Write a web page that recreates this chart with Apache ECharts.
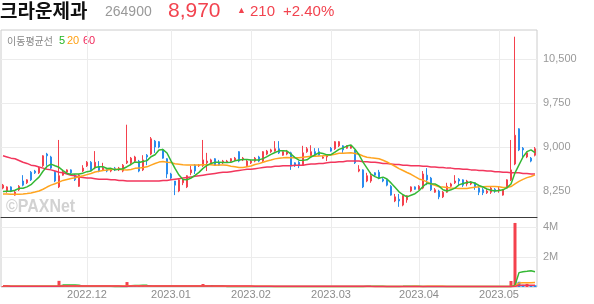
<!DOCTYPE html>
<html><head><meta charset="utf-8">
<script src="https://cdn.jsdelivr.net/npm/echarts@6/dist/echarts.min.js"></script>
<style>html,body{margin:0;padding:0;background:#fff;}#c{width:594px;height:304px;}</style>
</head><body><div id="c"></div>
<script>
// ---- data ----
const months = ['2022.11','2022.12','2023.01','2023.02','2023.03','2023.04','2023.05'];
const monthTradingDays = [
  [2,3,4,7,8,9,10,11,14,15,16,17,18,21,22,23,24,25,28,29,30],
  [1,2,5,6,7,8,9,12,13,14,15,16,19,20,21,22,23,26,27,28,29],
  [2,3,4,5,6,9,10,11,12,13,16,17,18,19,20,25,26,27,30,31],
  [1,2,3,6,7,8,9,10,13,14,15,16,17,20,21,22,23,24,27,28],
  [2,3,6,7,8,9,10,13,14,15,16,17,20,21,22,23,24,27,28,29,30,31],
  [3,4,5,6,7,10,11,12,13,14,17,18,19,20,21,24,25,26,27,28],
  [2,3,4,8,9,10,11,12,15,16]
];
const opens = [8300,8250,8320,8180,8270,8420,8390,8570,8590,8560,8680,8880,8830,8570,8320,8520,8570,8610,8520,8330,
8590,8680,8740,8640,8660,8610,8610,8590,8640,8610,8590,8730,8730,8760,8760,8610,8860,8880,9100,9090,
8950,8800,8540,8420,8250,8390,8320,8560,8690,8680,8680,8730,8730,8800,8730,8730,8740,8760,8780,8920,
8780,8680,8730,8760,8830,8760,8880,8920,8930,8970,8860,8880,8900,8730,8740,8690,8920,8850,8920,8920,
8810,8830,8980,8970,9020,9020,8980,8980,8930,8590,8610,8420,8420,8560,8570,8450,8440,8330,8080,8110,
8010,8100,8250,8320,8280,8300,8520,8470,8230,8250,8150,8230,8330,8390,8450,8440,8370,8370,8390,8300,
8270,8220,8230,8280,8250,8180,8300,8440,8710,9310,8980,8830,8810,8860];
const closes = [8350,8320,8250,8230,8330,8350,8440,8440,8560,8640,8850,8850,8640,8420,8510,8570,8610,8560,8440,8520,
8640,8740,8610,8740,8590,8640,8590,8620,8610,8640,8690,8760,8810,8830,8590,8780,8830,9140,9000,9000,
8810,8540,8470,8350,8440,8440,8510,8610,8590,8690,8780,8760,8780,8690,8690,8760,8760,8800,8810,8760,
8810,8760,8760,8810,8760,8920,8930,8950,8970,8900,8920,8920,8680,8680,8680,8900,8970,8920,8860,8860,
8830,8860,8930,9090,9090,8950,9020,9020,8730,8620,8320,8510,8510,8520,8470,8420,8350,8180,8150,8080,
8170,8170,8320,8280,8330,8540,8440,8270,8270,8150,8230,8330,8370,8420,8420,8350,8420,8400,8320,8230,
8220,8250,8300,8250,8280,8270,8440,8610,9200,8950,8950,8900,8760,8970];
const lows = [8280,8220,8230,8170,8250,8330,8370,8420,8540,8540,8660,8680,8620,8400,8300,8510,8560,8540,8420,8320,
8570,8660,8590,8620,8570,8590,8570,8570,8590,8590,8570,8710,8710,8740,8570,8590,8690,8860,8900,8980,
8800,8470,8440,8180,8230,8350,8300,8520,8540,8660,8660,8590,8710,8680,8680,8710,8730,8740,8760,8740,
8760,8660,8710,8740,8740,8740,8860,8900,8920,8880,8850,8860,8610,8660,8640,8680,8900,8830,8850,8850,
8800,8760,8920,8950,9000,8900,8970,8970,8710,8570,8300,8400,8390,8510,8450,8400,8330,8170,8060,7980,
7990,8050,8230,8270,8270,8280,8350,8250,8220,8110,8130,8220,8320,8370,8350,8320,8330,8350,8270,8180,
8180,8200,8200,8220,8220,8170,8290,8420,8690,8930,8800,8810,8740,8840];
const highs = [8370,8330,8330,8250,8350,8520,8450,8590,8610,8660,8860,8900,8850,8590,9120,8590,8620,8620,8540,8540,
8690,8760,8760,8930,8760,8730,8620,8640,8660,8660,8710,9380,8830,8850,8780,8860,8880,9170,9120,9100,
8970,8810,8560,8420,8450,8450,8520,8680,8710,8710,9120,8900,8800,8810,8780,8780,8780,8810,8830,8930,
8830,8780,8780,8830,8850,8930,8950,8970,9100,9100,8930,8950,8920,8740,8760,9020,9000,9030,8980,8980,
8850,8880,9000,9100,9100,9030,9030,9030,8950,8690,8620,8560,8570,8570,8610,8470,8450,8350,8200,8200,
8180,8180,8330,8330,8350,8590,8640,8490,8300,8270,8250,8390,8390,8520,8470,8450,8440,8420,8400,8320,
8300,8280,8320,8300,8320,8280,8450,9120,10880,9320,9000,8920,8830,9000];
const volumes = [62000,48000,41000,35000,44000,52000,38000,47000,33000,41000,
66000,58000,45000,52000,410000,88000,52000,39000,36000,61000,
47000,55000,42000,70000,39000,31000,27000,25000,29000,26000,
44000,330000,72000,48000,51000,46000,38000,95000,60000,41000,
52000,64000,43000,58000,49000,33000,47000,62000,40000,28000,
200000,66000,41000,38000,30000,27000,24000,29000,26000,35000,
28000,31000,25000,22000,27000,45000,34000,29000,38000,33000,
26000,24000,42000,30000,27000,48000,36000,33000,29000,25000,
22000,28000,31000,44000,37000,30000,24000,26000,52000,47000,
68000,44000,36000,30000,35000,27000,33000,58000,49000,52000,
61000,45000,40000,32000,29000,56000,44000,41000,30000,37000,
33000,39000,31000,35000,28000,30000,24000,22000,27000,31000,
26000,23000,29000,25000,27000,31000,60000,400000,4270000,350000,
150000,210000,130000,120000];
// closes before the first visible day (estimated from the starting level of the 5/20-day lines)
const prevCloses = [8350,8300,8280,8320,8250,8300,8260,8220,8280,8250,8100,8000,7950,7950,7980,8300,8250,8150,8160];
// 60-day average line at every candle
const ma60 = [8850,8830,8810,8800,8770,8740,8720,8690,8680,8660,8640,8620,8610,8590,8570,8560,8540,8520,8510,8490,
8480,8470,8470,8460,8450,8450,8450,8440,8440,8430,8430,8420,8420,8420,8420,8420,8420,8420,8420,8420,
8430,8430,8440,8450,8460,8470,8480,8490,8500,8510,8520,8530,8540,8550,8560,8570,8570,8580,8590,8600,
8610,8620,8620,8630,8640,8650,8660,8660,8670,8670,8680,8680,8680,8690,8690,8690,8700,8710,8710,8720,
8720,8730,8740,8740,8750,8750,8760,8760,8760,8760,8750,8750,8740,8740,8730,8720,8720,8710,8700,8700,
8690,8690,8680,8680,8680,8670,8670,8660,8660,8650,8650,8640,8640,8630,8630,8620,8620,8610,8610,8600,
8600,8590,8590,8580,8580,8570,8570,8560,8560,8560,8550,8550,8540,8540];
const priceTicks = {min: 7500, max: 11250, step: 750};
const volTicks = {min: 0, max: 14000000 / 3, step: 2000000};

// ---- derived ----
const dates = [];
months.forEach((m, k) => monthTradingDays[k].forEach(d => dates.push(m + '.' + String(d).padStart(2, '0'))));
const monthStart = dates.map((d, i) => i > 0 && d.slice(0, 7) !== dates[i - 1].slice(0, 7));
function movingAvg(vals, period, prev) {
  const all = prev.concat(vals), off = prev.length;
  return vals.map((_, i) => {
    const j = i + off, s0 = Math.max(0, j - period + 1);
    let s = 0; for (let k = s0; k <= j; k++) s += all[k];
    return Math.round(s / (j - s0 + 1) * 10) / 10;
  });
}
// volume averages in the reference cover the preceding days (today excluded)
function prevAvg(vals, period) {
  return vals.map((v, i) => {
    if (i === 0) return v;
    const s0 = Math.max(0, i - period);
    let s = 0; for (let k = s0; k < i; k++) s += vals[k];
    return Math.round(s / (i - s0));
  });
}
const ma5 = movingAvg(closes, 5, prevCloses.slice(-4));
const ma20 = movingAvg(closes, 20, prevCloses);
const vma5 = prevAvg(volumes, 5);
const vma20 = prevAvg(volumes, 20);
const vma60 = prevAvg(volumes, 60);
const candles = opens.map((o, i) => [o, closes[i], lows[i], highs[i]]);

const UP = '#f4414d', DOWN = '#2a8cee';
const GREEN = '#34b834', ORANGE = '#ffa41f', PINK = '#f2365c';
const volData = volumes.map((v, i) => ({value: v, itemStyle: {color: (i === 0 || v >= volumes[i - 1]) ? UP : DOWN}}));
const FONT = '"Liberation Sans", Arial, sans-serif';
const KFONT = '"Noto Sans CJK KR", sans-serif';
const labelInterval = (idx) => monthStart[idx];

const chart = echarts.init(document.getElementById('c'));
chart.setOption({
  animation: false,
  grid: [
    {left: 1, right: 57, top: 15, height: 220},
    {left: 1, right: 57, top: 217, height: 70},
    {left: 1, right: 57, top: 30, height: 257, show: true, borderColor: '#cccccc', borderWidth: 1}
  ],
  xAxis: [
    {type: 'category', gridIndex: 0, data: dates, show: false},
    {type: 'category', gridIndex: 1, data: dates, axisLine: {show: false}, axisTick: {show: false}, splitLine: {show: false},
     axisLabel: {interval: labelInterval, formatter: v => v.slice(0, 7), color: '#8c8c8c', fontSize: 11, fontFamily: FONT, margin: 2}},
    {type: 'category', gridIndex: 1, data: dates, position: 'top', axisLine: {show: true, lineStyle: {color: '#3a3a3a', width: 1}},
     axisTick: {show: false}, axisLabel: {show: false}, splitLine: {show: false}},
    {type: 'category', gridIndex: 2, data: dates, axisLine: {show: false}, axisTick: {show: false}, axisLabel: {show: false},
     splitLine: {show: true, interval: labelInterval, alignWithLabel: true, lineStyle: {color: '#ececec', width: 1}}}
  ],
  yAxis: [
    {type: 'value', gridIndex: 0, position: 'right', min: priceTicks.min, max: priceTicks.max, interval: priceTicks.step,
     axisLine: {show: false}, axisTick: {show: false},
     splitLine: {show: true, showMinLine: false, showMaxLine: false, lineStyle: {color: '#ececec'}},
     axisLabel: {showMinLabel: false, showMaxLabel: false, formatter: v => v.toLocaleString('en-US'), color: '#999', fontSize: 11, fontFamily: FONT, margin: 6}},
    {type: 'value', gridIndex: 1, position: 'right', min: volTicks.min, max: volTicks.max, interval: volTicks.step,
     axisLine: {show: false}, axisTick: {show: false},
     splitLine: {show: true, showMinLine: false, showMaxLine: false, lineStyle: {color: '#ececec'}},
     axisLabel: {showMinLabel: false, showMaxLabel: false, formatter: v => (v / 1e6) + 'M', color: '#999', fontSize: 11, fontFamily: FONT, margin: 6}},
    {type: 'value', gridIndex: 2, show: false, splitLine: {show: false}}
  ],
  series: [
    {type: 'candlestick', xAxisIndex: 0, yAxisIndex: 0, data: candles, barWidth: 2,
     itemStyle: {color: UP, color0: DOWN, borderColor: UP, borderColor0: DOWN, borderWidth: 1}},
    {type: 'line', xAxisIndex: 0, yAxisIndex: 0, data: ma60, symbol: 'none', lineStyle: {color: PINK, width: 1.5}},
    {type: 'line', xAxisIndex: 0, yAxisIndex: 0, data: ma20, symbol: 'none', lineStyle: {color: ORANGE, width: 1.5}},
    {type: 'line', xAxisIndex: 0, yAxisIndex: 0, data: ma5, symbol: 'none', lineStyle: {color: GREEN, width: 1.5}},
    {type: 'bar', xAxisIndex: 1, yAxisIndex: 1, data: volData, barWidth: 3},
    {type: 'line', xAxisIndex: 1, yAxisIndex: 1, data: vma5, symbol: 'none', lineStyle: {color: GREEN, width: 1.5}},
    {type: 'line', xAxisIndex: 1, yAxisIndex: 1, data: vma20, symbol: 'none', lineStyle: {color: ORANGE, width: 1.5}},
    {type: 'line', xAxisIndex: 1, yAxisIndex: 1, data: vma60, symbol: 'none', lineStyle: {color: PINK, width: 1.5}}
  ],
  graphic: [
    {type: 'text', x: 0, y: 11, style: {text: '크라운제과', font: 'bold 19px ' + KFONT, fill: '#111', verticalAlign: 'middle'}},
    {type: 'text', x: 105, y: 12, style: {text: '264900', font: '14px ' + FONT, fill: '#999', verticalAlign: 'middle'}},
    {type: 'text', x: 168, y: 11, style: {text: '8,970', font: '21px ' + FONT, fill: '#f2434f', verticalAlign: 'middle'}},
    {type: 'text', x: 237, y: 11, style: {text: '▲', font: '9px ' + FONT, fill: '#f2434f', verticalAlign: 'middle'}},
    {type: 'text', x: 250, y: 12, style: {text: '210', font: '15px ' + FONT, fill: '#f2434f', verticalAlign: 'middle'}},
    {type: 'text', x: 283, y: 12, style: {text: '+2.40%', font: '15px ' + FONT, fill: '#f2434f', verticalAlign: 'middle'}},
    {type: 'text', x: 7, y: 41, style: {text: '이동평균선', font: '10px ' + KFONT, fill: '#888', verticalAlign: 'middle'}},
    {type: 'text', x: 59, y: 41, style: {text: '5', font: '11px ' + FONT, fill: '#22b522', verticalAlign: 'middle'}},
    {type: 'text', x: 67, y: 41, style: {text: '20', font: '11px ' + FONT, fill: '#ff9f10', verticalAlign: 'middle'}},
    {type: 'text', x: 83, y: 41, style: {text: '60', font: '11px ' + FONT, fill: '#f0285a', verticalAlign: 'middle'}},
    {type: 'text', x: 6, y: 207, scaleX: 0.84, style: {text: '©PAXNet', font: 'bold 19px ' + FONT, fill: '#d2d2d2', verticalAlign: 'middle'}}
  ]
});
</script></body></html>
